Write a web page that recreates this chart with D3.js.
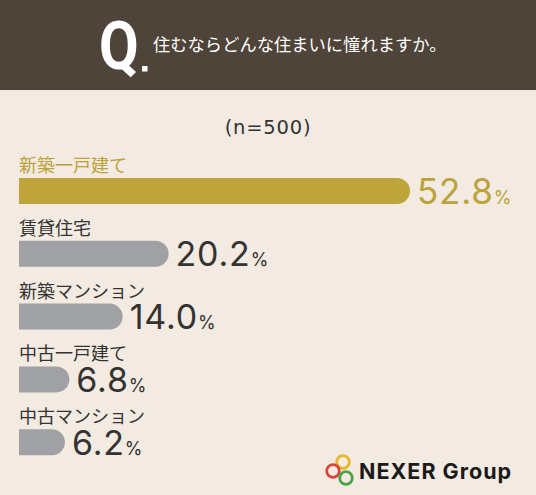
<!DOCTYPE html>
<html>
<head>
<meta charset="utf-8">
<script src="https://cdn.jsdelivr.net/npm/d3@7"></script>
<style>
  body { margin: 0; background: #f3ebe1; }
  svg { display: block; }
</style>
</head>
<body>
<div id="chart"></div>
<script>
// data
let categories = ["新築一戸建て", "賃貸住宅", "新築マンション", "中古一戸建て", "中古マンション"];
let values = [52.8, 20.2, 14.0, 6.8, 6.2];
let question = "住むならどんな住まいに憧れますか。";
let sampleNote = "(n=500)";

let width = 536;
let height = 495;
let barHeight = 26;

let svg = d3.select('#chart').append('svg')
    .attr('width', width)
    .attr('height', height)

svg.append('rect')
    .attr('width', width)
    .attr('height', height)
    .attr('fill', '#f3ebe1')

// header band
svg.append('rect')
    .attr('width', width)
    .attr('height', 90)
    .attr('fill', '#4f4439')

svg.append('text')
    .attr('transform', 'translate(99, 69) scale(0.9, 1.03)')
    .attr('font-family', 'Roboto')
    .attr('font-weight', 700)
    .attr('font-size', 64)
    .attr('fill', '#ffffff')
    .text('Q')

svg.append('rect')
    .attr('x', 142)
    .attr('y', 66)
    .attr('width', 5.5)
    .attr('height', 5.5)
    .attr('fill', '#ffffff')

svg.append('text')
    .attr('x', 153)
    .attr('y', 51)
    .attr('font-family', '"Noto Sans CJK JP"')
    .attr('font-size', 17.3)
    .attr('fill', '#ffffff')
    .text(question)

svg.append('text')
    .attr('x', 268)
    .attr('y', 134)
    .attr('text-anchor', 'middle')
    .attr('font-family', '"DejaVu Sans"')
    .attr('font-size', 19.5)
    .attr('letter-spacing', 0.8)
    .attr('fill', '#333333')
    .text(sampleNote)

let xScale = d3.scaleLinear()
    .domain([0, d3.max(values)])
    .range([0, 391])

let yScale = d3.scaleBand()
    .domain(categories)
    .range([150, 150 + 62.8 * categories.length])

let x0 = 19;

function barPath(w, h) {
    let r = Math.min(h / 2, w);
    return 'M0,0 H' + (w - r) + ' A' + r + ',' + r + ' 0 0 1 ' + (w - r) + ',' + h + ' H0 Z';
}

let rows = svg.selectAll('g.row').data(categories)
    .enter().append('g')
    .attr('class', 'row')
    .attr('transform', function (d) { return 'translate(' + x0 + ', ' + yScale(d) + ')'; })

rows.append('text')
    .attr('x', 0)
    .attr('y', 22)
    .attr('font-family', '"Noto Sans CJK JP"')
    .attr('font-size', 18)
    .attr('fill', function (d, i) { return i === 0 ? '#bba23b' : '#333333'; })
    .text(function (d) { return d; })

rows.append('path')
    .attr('transform', 'translate(0, 28)')
    .attr('d', function (d, i) { return barPath(xScale(values[i]), barHeight); })
    .attr('fill', function (d, i) { return i === 0 ? '#bea53b' : '#a0a1a4'; })

let valueText = rows.append('text')
    .attr('x', function (d, i) { return xScale(values[i]) + 7; })
    .attr('y', 28 + barHeight - 0.5)
    .attr('font-family', 'Inter')
    .attr('font-weight', 400)
    .attr('font-size', function (d, i) { return i === 0 ? 35 : 34; })
    .attr('letter-spacing', 0.8)
    .attr('fill', function (d, i) { return i === 0 ? '#bba23b' : '#333333'; })

valueText.append('tspan')
    .text(function (d, i) { return values[i].toFixed(1); })
valueText.append('tspan')
    .attr('font-size', 18)
    .attr('letter-spacing', 0)
    .text('%')

// logo
let logo = svg.append('g')

let rings = [
    { cx: 343, cy: 462, color: '#e8b62a' },
    { cx: 333, cy: 471, color: '#d9453a' },
    { cx: 346, cy: 478, color: '#4aa345' }
];
logo.selectAll('circle').data(rings)
    .enter().append('circle')
    .attr('cx', function (d) { return d.cx; })
    .attr('cy', function (d) { return d.cy; })
    .attr('r', 6.3)
    .attr('fill', 'none')
    .attr('stroke', function (d) { return d.color; })
    .attr('stroke-width', 2.8)

logo.append('text')
    .attr('x', 359)
    .attr('y', 478.5)
    .attr('font-family', 'Inter')
    .attr('font-weight', 700)
    .attr('font-size', 21.5)
    .attr('letter-spacing', 1)
    .attr('fill', '#1a1a1a')
    .text('NEXER Group')
</script>
</body>
</html>
